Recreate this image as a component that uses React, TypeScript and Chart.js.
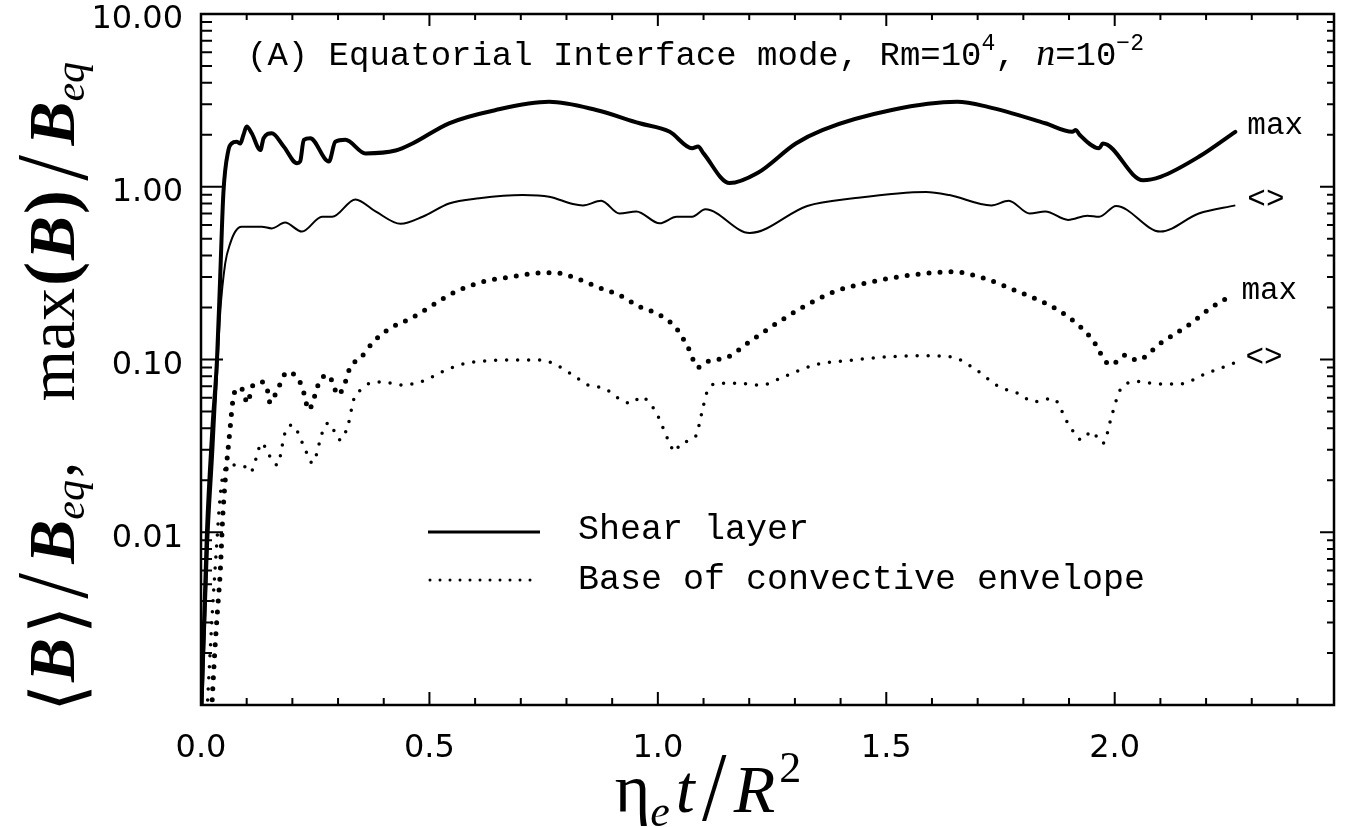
import React, { useEffect, useRef } from 'react';
import { Chart, registerables } from 'chart.js';

Chart.register(...registerables);

// ---------- axes ----------
const X_MIN = 0;
const X_MAX = 2.48;
const Y_MIN = 0.001;
const Y_MAX = 10;
const X_TICKS = [0, 0.5, 1.0, 1.5, 2.0];
const X_MINOR_STEP = 0.1;
const Y_TICKS = [0.01, 0.1, 1, 10];

// ---------- Shear layer, max(B)/Beq (thick solid) ----------
const shearMaxX = [0.0, 0.013, 0.025, 0.035, 0.042, 0.049, 0.06, 0.067, 0.078, 0.086, 0.093, 0.1, 0.111, 0.13, 0.137, 0.155, 0.181, 0.21, 0.217, 0.225, 0.239, 0.28, 0.294, 0.316, 0.36, 0.426, 0.463, 0.543, 0.645, 0.762, 0.865, 0.96, 1.026, 1.075, 1.088, 1.1, 1.157, 1.218, 1.302, 1.36, 1.512, 1.655, 1.722, 1.848, 1.907, 1.915, 1.923, 1.966, 1.974, 2.062, 2.1, 2.184, 2.264];
const shearMaxY = [0.0008, 0.01, 0.04, 0.1, 0.3, 0.92, 1.63, 1.78, 1.82, 1.78, 2.0, 2.23, 2.04, 1.63, 1.91, 2.04, 1.71, 1.37, 1.4, 1.87, 1.91, 1.4, 1.82, 1.87, 1.56, 1.62, 1.78, 2.33, 2.78, 3.1, 2.78, 2.33, 2.08, 1.67, 1.71, 1.56, 1.05, 1.2, 1.78, 2.13, 2.78, 3.1, 2.9, 2.33, 2.08, 2.13, 2.0, 1.67, 1.78, 1.09, 1.14, 1.49, 2.08];

// ---------- Shear layer, <B>/Beq (thin solid) ----------
const shearAvgX = [0.002, 0.015, 0.027, 0.036, 0.042, 0.053, 0.064, 0.075, 0.089, 0.133, 0.155, 0.184, 0.221, 0.265, 0.287, 0.338, 0.382, 0.437, 0.485, 0.543, 0.609, 0.704, 0.762, 0.814, 0.836, 0.876, 0.916, 0.953, 1.004, 1.041, 1.075, 1.104, 1.201, 1.327, 1.428, 1.587, 1.638, 1.73, 1.768, 1.814, 1.848, 1.898, 1.94, 1.966, 2.003, 2.1, 2.184, 2.264];
const shearAvgY = [0.0008, 0.008, 0.03, 0.09, 0.186, 0.36, 0.47, 0.55, 0.587, 0.587, 0.574, 0.62, 0.55, 0.67, 0.67, 0.845, 0.72, 0.61, 0.67, 0.8, 0.857, 0.895, 0.876, 0.795, 0.78, 0.83, 0.7, 0.72, 0.614, 0.67, 0.67, 0.74, 0.54, 0.774, 0.857, 0.933, 0.895, 0.78, 0.83, 0.7, 0.72, 0.643, 0.68, 0.67, 0.774, 0.55, 0.7, 0.78];

// ---------- Base of convective envelope, max (thick dotted) ----------
const baseMaxX = [0.022, 0.03, 0.036, 0.042, 0.048, 0.064, 0.07, 0.079, 0.092, 0.101, 0.114, 0.136, 0.147, 0.151, 0.167, 0.189, 0.211, 0.222, 0.228, 0.235, 0.261, 0.279, 0.29, 0.299, 0.312, 0.327, 0.349, 0.378, 0.415, 0.459, 0.499, 0.543, 0.587, 0.631, 0.675, 0.726, 0.774, 0.822, 0.869, 0.916, 0.96, 1.004, 1.041, 1.067, 1.088, 1.108, 1.155, 1.201, 1.26, 1.319, 1.386, 1.47, 1.554, 1.646, 1.714, 1.789, 1.848, 1.898, 1.949, 1.991, 2.024, 2.049, 2.1, 2.167, 2.209, 2.251];
const baseMaxY = [0.0008, 0.002, 0.0035, 0.0058, 0.0129, 0.0407, 0.0583, 0.0684, 0.0666, 0.056, 0.0711, 0.0741, 0.064, 0.056, 0.0666, 0.0847, 0.0782, 0.0684, 0.0598, 0.051, 0.076, 0.0813, 0.0711, 0.0623, 0.0693, 0.0906, 0.102, 0.127, 0.152, 0.173, 0.2, 0.236, 0.266, 0.288, 0.299, 0.315, 0.318, 0.295, 0.262, 0.236, 0.202, 0.181, 0.151, 0.116, 0.09, 0.097, 0.104, 0.127, 0.162, 0.202, 0.247, 0.282, 0.308, 0.322, 0.295, 0.247, 0.212, 0.177, 0.133, 0.093, 0.106, 0.099, 0.124, 0.162, 0.198, 0.231];

// ---------- Base of convective envelope, <> (thin dotted) ----------
const baseAvgX = [0.012, 0.025, 0.035, 0.04, 0.046, 0.057, 0.075, 0.097, 0.108, 0.134, 0.145, 0.167, 0.184, 0.2, 0.224, 0.244, 0.266, 0.279, 0.305, 0.323, 0.334, 0.349, 0.371, 0.397, 0.441, 0.47, 0.492, 0.528, 0.572, 0.623, 0.675, 0.744, 0.77, 0.814, 0.847, 0.883, 0.92, 0.942, 0.964, 0.982, 0.997, 1.026, 1.037, 1.05, 1.083, 1.096, 1.108, 1.134, 1.176, 1.226, 1.277, 1.344, 1.428, 1.512, 1.596, 1.646, 1.697, 1.747, 1.789, 1.823, 1.865, 1.898, 1.928, 1.949, 1.974, 1.995, 2.012, 2.049, 2.1, 2.142, 2.201, 2.26];
const baseAvgY = [0.0008, 0.0035, 0.009, 0.014, 0.02, 0.0239, 0.0245, 0.0239, 0.0223, 0.0329, 0.0292, 0.0245, 0.0376, 0.0418, 0.032, 0.0252, 0.038, 0.0429, 0.0342, 0.0429, 0.0583, 0.0666, 0.073, 0.074, 0.0711, 0.0728, 0.076, 0.085, 0.094, 0.098, 0.0993, 0.0993, 0.095, 0.0813, 0.0711, 0.068, 0.0583, 0.0557, 0.061, 0.0557, 0.0489, 0.0327, 0.0292, 0.0327, 0.036, 0.0489, 0.0652, 0.0728, 0.0728, 0.0711, 0.0797, 0.093, 0.0993, 0.104, 0.105, 0.103, 0.0869, 0.0695, 0.0636, 0.057, 0.0596, 0.0426, 0.0342, 0.0382, 0.0327, 0.0489, 0.0666, 0.0745, 0.0721, 0.0721, 0.0832, 0.095];

// ---------- texts ----------
const CURVE_LABELS = ['max', '<>', 'max', '<>'];
const LEGEND_LABELS = ['Shear layer', 'Base of convective envelope'];

const MONO = '"Liberation Mono", "Courier New", monospace';
const SERIF = '"Liberation Serif", "Times New Roman", serif';

const toPoints = (xs: number[], ys: number[]) => xs.map((x, i) => ({ x, y: ys[i] }));

const decorPlugin = {
  id: 'decor',
  beforeDraw(chart: any) {
    const ctx = chart.ctx;
    ctx.save();
    ctx.fillStyle = '#fff';
    ctx.fillRect(0, 0, chart.width, chart.height);
    ctx.restore();
  },
  afterDraw(chart: any) {
    const ctx: CanvasRenderingContext2D = chart.ctx;
    const { left, right, top, bottom } = chart.chartArea;
    const xs = chart.scales.x;
    const ys = chart.scales.y;
    ctx.save();
    ctx.strokeStyle = '#000';
    ctx.fillStyle = '#000';

    // frame
    ctx.lineWidth = 2.5;
    ctx.strokeRect(left, top, right - left, bottom - top);

    // x ticks (inward, bottom and top)
    ctx.lineWidth = 2;
    ctx.beginPath();
    const nx = Math.round((X_MAX - X_MIN) / X_MINOR_STEP);
    for (let i = 0; i <= nx; i++) {
      const v = X_MIN + i * X_MINOR_STEP;
      if (v > X_MAX + 1e-9) break;
      const px = xs.getPixelForValue(v);
      const major = i % 5 === 0;
      ctx.moveTo(px, bottom);
      ctx.lineTo(px, bottom - (major ? 13 : 7));
      ctx.moveTo(px, top);
      ctx.lineTo(px, top + (major ? 12 : 6));
    }
    // y ticks (inward, left and right)
    for (let e = -3; e <= 1; e++) {
      for (let m = 1; m <= 9; m++) {
        const v = m * Math.pow(10, e);
        if (v < Y_MIN * 0.999 || v > Y_MAX * 1.001) continue;
        const py = ys.getPixelForValue(v);
        const major = m === 1;
        ctx.moveTo(left, py);
        ctx.lineTo(left + (major ? 22 : 11), py);
        ctx.moveTo(right, py);
        ctx.lineTo(right - (major ? 14 : 7), py);
      }
    }
    ctx.stroke();

    // title inside the plot
    ctx.textBaseline = 'alphabetic';
    ctx.textAlign = 'left';
    let tx = left + 46;
    const tb = top + 51;
    const seg = (text: string, font: string, dy = 0) => {
      ctx.font = font;
      ctx.fillText(text, tx, tb + dy);
      tx += ctx.measureText(text).width;
    };
    seg('(A) Equatorial Interface mode, Rm=10', `34px ${MONO}`);
    seg('4', `23px ${MONO}`, -15);
    seg(', ', `34px ${MONO}`);
    seg('n', `italic 38px ${SERIF}`);
    seg('=10', `34px ${MONO}`);
    seg('\u2212', `23px ${MONO}`, -15);
    seg('2', `23px ${MONO}`, -15);

    // curve end labels
    ctx.font = `31px ${MONO}`;
    ctx.textBaseline = 'middle';
    chart.data.datasets.forEach((_: any, i: number) => {
      const meta = chart.getDatasetMeta(i);
      const last = meta.data[meta.data.length - 1];
      ctx.fillText(CURVE_LABELS[i], last.x + 12, last.y - 6);
    });

    // legend
    const lx0 = left + 227;
    const lx1 = left + 339;
    const ly1 = 532;
    const ly2 = 580;
    ctx.lineWidth = 3;
    ctx.beginPath();
    ctx.moveTo(lx0, ly1);
    ctx.lineTo(lx1, ly1);
    ctx.stroke();
    ctx.save();
    ctx.lineCap = 'round';
    ctx.setLineDash([0, 10]);
    ctx.lineWidth = 3;
    ctx.beginPath();
    ctx.moveTo(lx0 + 2, ly2);
    ctx.lineTo(lx1, ly2);
    ctx.stroke();
    ctx.restore();
    ctx.font = `35px ${MONO}`;
    ctx.textBaseline = 'middle';
    ctx.fillText(LEGEND_LABELS[0], left + 377, ly1 - 2);
    ctx.fillText(LEGEND_LABELS[1], left + 377, ly2);

    // x-axis title: eta_e t / R^2
    ctx.textBaseline = 'alphabetic';
    const xPieces: [string, string, number, number][] = [
      ['\u03B7', `68px ${SERIF}`, 0, 0],
      ['e', `italic 44px ${SERIF}`, 14, 6],
      ['t', `italic 68px ${SERIF}`, 0, 6],
      ['/', `200 80px "DejaVu Sans"`, 2, 6],
      ['R', `italic 68px ${SERIF}`, 0, 4],
      ['2', `44px ${SERIF}`, -30, 0],
    ];
    let wsum = 0;
    xPieces.forEach(([t, f, , g]) => { ctx.font = f; wsum += ctx.measureText(t).width + g; });
    let ax = 708 - wsum / 2;
    const abase = 812;
    xPieces.forEach(([t, f, dy, g]) => {
      ctx.font = f;
      ctx.fillText(t, ax, abase + dy);
      ax += ctx.measureText(t).width + g;
    });

    // y-axis title (rotated)
    ctx.save();
    ctx.translate(74, 712);
    ctx.rotate(-Math.PI / 2);
    const B = `italic bold 66px ${SERIF}`;
    const SUB = `italic 42px ${SERIF}`;
    const yPieces: [string, string, number, number][] = [
      ['\u27E8', `200 72px "DejaVu Sans"`, 8, 2],
      ['B', B, 0, 4],
      ['\u27E9', `200 72px "DejaVu Sans"`, 8, 6],
      ['/', `200 84px "DejaVu Sans"`, 6, 8],
      ['B', B, 0, 0],
      ['eq', SUB, 10, 2],
      [',', `66px ${SERIF}`, 0, 60],
      ['max', `66px ${SERIF}`, 0, 2],
      ['(', `bold 72px ${SERIF}`, 0, 2],
      ['B', B, 0, 2],
      [')', `bold 72px ${SERIF}`, 0, 8],
      ['/', `200 84px "DejaVu Sans"`, 6, 8],
      ['B', B, 0, 0],
      ['eq', SUB, 10, 0],
    ];
    let ry = 0;
    yPieces.forEach(([t, f, dy, g]) => {
      ctx.font = f;
      ctx.fillText(t, ry, dy);
      ry += ctx.measureText(t).width + g;
    });
    ctx.restore();

    ctx.restore();
  },
};

export default function App() {
  const ref = useRef<HTMLCanvasElement | null>(null);
  useEffect(() => {
    if (!ref.current) return;
    const common = { borderColor: '#000', pointRadius: 0, fill: false, cubicInterpolationMode: 'monotone' };
    const chart = new Chart(ref.current, {
      type: 'line',
      data: {
        datasets: [
          { ...common, data: toPoints(shearMaxX, shearMaxY), borderWidth: 4, borderJoinStyle: 'round', borderCapStyle: 'round' },
          { ...common, data: toPoints(shearAvgX, shearAvgY), borderWidth: 2, borderJoinStyle: 'round' },
          { ...common, data: toPoints(baseMaxX, baseMaxY), borderWidth: 5, borderDash: [0, 11], borderCapStyle: 'round' },
          { ...common, data: toPoints(baseAvgX, baseAvgY), borderWidth: 3.5, borderDash: [0, 11], borderCapStyle: 'round' },
        ],
      } as any,
      options: {
        animation: false,
        responsive: false,
        devicePixelRatio: 1,
        layout: { padding: { left: 0, right: 12, top: 14, bottom: 0 } },
        plugins: {
          legend: { display: false },
          tooltip: { enabled: false },
          title: { display: false },
        },
        scales: {
          x: {
            type: 'linear',
            min: X_MIN,
            max: X_MAX,
            grid: { display: false, drawTicks: false },
            border: { display: false },
            afterBuildTicks: (s: any) => {
              s.ticks = X_TICKS.map((v) => ({ value: v }));
            },
            afterFit: (s: any) => {
              s.height = 122;
              s.paddingLeft = 0;
              s.paddingRight = 0;
            },
            ticks: {
              padding: 24,
              color: '#000',
              font: { family: '"DejaVu Sans"', size: 32 },
              maxRotation: 0,
              autoSkip: false,
              callback: (v: any) => Number(v).toFixed(1),
            },
          },
          y: {
            type: 'logarithmic',
            min: Y_MIN,
            max: Y_MAX,
            grid: { display: false, drawTicks: false },
            border: { display: false },
            afterBuildTicks: (s: any) => {
              s.ticks = Y_TICKS.map((v) => ({ value: v }));
            },
            afterFit: (s: any) => {
              s.width = 201;
              s.paddingTop = 0;
              s.paddingBottom = 0;
            },
            ticks: {
              padding: 18,
              labelOffset: 6,
              color: '#000',
              font: { family: '"DejaVu Sans"', size: 32 },
              autoSkip: false,
              callback: (v: any) => Number(v).toFixed(2),
            },
          },
        },
      } as any,
      plugins: [decorPlugin],
    });
    return () => chart.destroy();
  }, []);

  return (
    <div style={{ position: 'fixed', left: 0, top: 0, width: 1346, height: 827, background: '#fff' }}>
      <canvas ref={ref} width={1346} height={827} style={{ width: 1346, height: 827, display: 'block' }} />
    </div>
  );
}
